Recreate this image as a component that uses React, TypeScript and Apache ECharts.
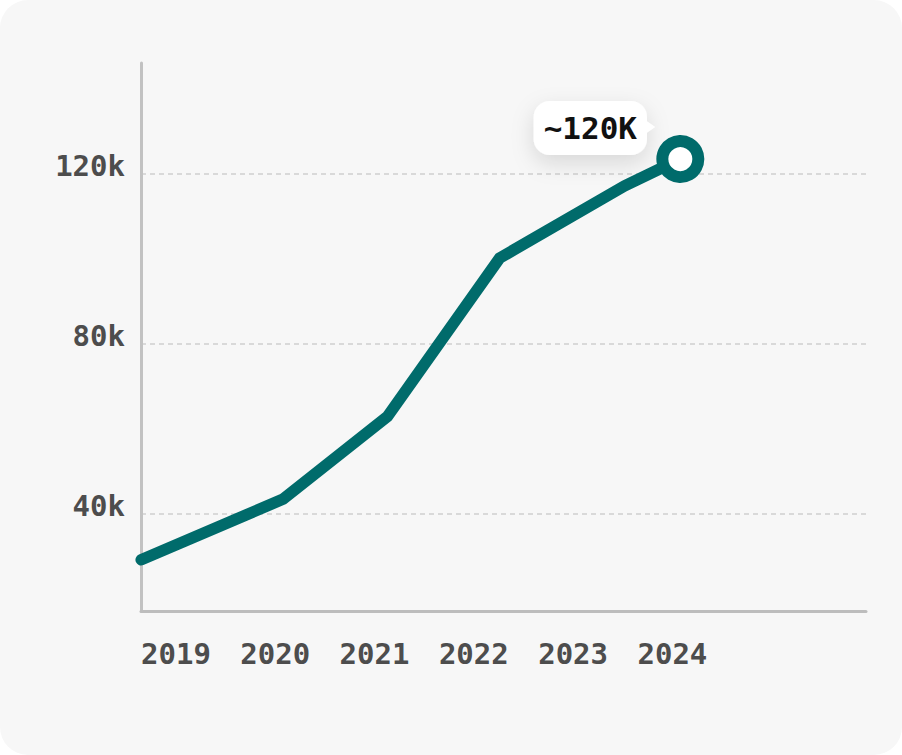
import React, { useEffect, useRef } from "react";
import * as echarts from "echarts";

const years = [2019, 2020, 2021, 2022, 2023, 2024];
const yTicks = [40, 80, 120];
const pointX = [2018.65, 2020.08, 2021.13, 2022.26, 2023.52, 2024.08];
const pointY = [29.1, 43.4, 62.8, 100.1, 117.1, 123.4];
const calloutText = "~120K";

const TEAL = "#006b6b";
const FONT = "'DejaVu Sans Mono', monospace";

export default function App() {
  const ref = useRef<HTMLDivElement>(null);
  useEffect(() => {
    if (!ref.current) return;
    const chart = echarts.init(ref.current, undefined, { renderer: "svg" });
    const last = pointX.length - 1;
    const data = pointX.map((x, i) =>
      i === last
        ? {
            value: [x, pointY[i]],
            symbol: "circle",
            symbolSize: 36,
            itemStyle: { color: "#ffffff", borderColor: TEAL, borderWidth: 12 },
            label: {
              show: true,
              position: "inside",
              offset: [-90, -31],
              formatter: calloutText,
              fontFamily: FONT,
              fontWeight: "bold",
              fontSize: 31,
              color: "#111111",
              backgroundColor: "#ffffff",
              borderRadius: 16,
              padding: [12, 10, 11, 10],
              shadowBlur: 22,
              shadowColor: "rgba(0,0,0,0.13)",
              shadowOffsetY: 8,
            },
          }
        : { value: [x, pointY[i]] }
    );
    chart.setOption({
      animation: false,
      backgroundColor: "transparent",
      grid: { left: 141, right: 36, top: 63, bottom: 144, containLabel: false },
      xAxis: {
        type: "value",
        min: 2018.648,
        max: 2025.95,
        axisLine: { show: true, lineStyle: { color: "#bdbdbd", width: 3 } },
        axisTick: { show: false },
        splitLine: { show: false },
        axisLabel: {
          customValues: years,
          formatter: (v: number) => String(v),
          color: "#4d4d4d",
          fontFamily: FONT,
          fontWeight: "bold",
          fontSize: 29,
          margin: 28,
        },
      },
      yAxis: {
        type: "value",
        min: 17.06,
        max: 146,
        axisLine: { show: true, lineStyle: { color: "#c2c2c2", width: 3 } },
        axisTick: { show: false, customValues: yTicks },
        splitLine: {
          show: true,
          lineStyle: { color: "#d9d9d9", width: 2, type: [5, 4] },
        },
        axisLabel: {
          customValues: yTicks,
          formatter: (v: number) => v + "k",
          color: "#4d4d4d",
          fontFamily: FONT,
          fontWeight: "bold",
          fontSize: 29,
          margin: 16,
          verticalAlign: "bottom",
          lineHeight: 16,
        },
      },
      series: [
        {
          type: "line",
          data,
          symbol: "none",
          lineStyle: { color: TEAL, width: 11.5, cap: "round", join: "miter" },
          z: 3,
          markPoint: {
            silent: true,
            data: [
              {
                coord: [pointX[last], pointY[last]],
                symbol: "triangle",
                symbolSize: [14, 10],
                symbolRotate: -90,
                symbolOffset: [-30, -32],
                itemStyle: { color: "#ffffff" },
                label: { show: false },
              },
            ],
          },
        },
      ],
    });
    return () => chart.dispose();
  }, []);
  return (
    <div
      style={{
        position: "fixed",
        left: 0,
        top: 0,
        width: 902,
        height: 755,
        background: "#ffffff",
      }}
    >
      <div
        style={{
          position: "absolute",
          inset: 0,
          background: "#f7f7f7",
          borderRadius: 28,
        }}
      >
        <div ref={ref} style={{ width: 902, height: 755 }} />
      </div>
    </div>
  );
}
